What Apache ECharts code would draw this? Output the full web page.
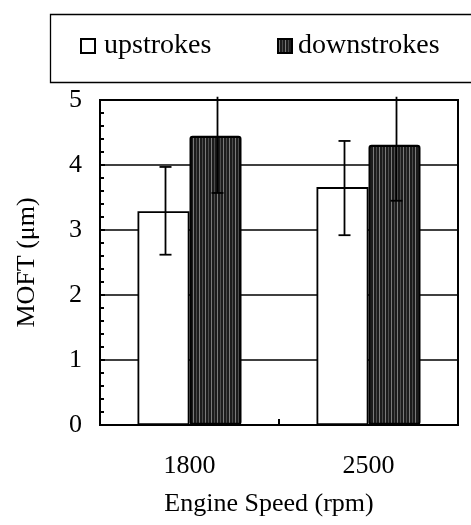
<!DOCTYPE html>
<html>
<head>
<meta charset="utf-8">
<script src="https://cdn.jsdelivr.net/npm/echarts@6/dist/echarts.min.js"></script>
<style>
html,body{margin:0;padding:0;background:#fff;}
#chart{width:471px;height:525px;}
</style>
</head>
<body>
<div id="chart"></div>
<script>
// ---- data ----
const categories = ['1800', '2500'];
const upstrokes = [3.29, 3.66];
const downstrokes = [4.45, 4.31];
const upErrLow = [2.62, 2.92];
const upErrHigh = [3.97, 4.37];
const downErrLow = [3.57, 3.45];
const downErrHigh = [5.05, 5.05];
const yTicks = [0, 1, 2, 3, 4, 5];

// ---- hatch-like fill for the dark bars ----
const pc = document.createElement('canvas');
pc.width = 6; pc.height = 6;
const g = pc.getContext('2d');
g.fillStyle = '#1c1c1c'; g.fillRect(0, 0, 6, 6);
g.fillStyle = '#7a7a7a'; g.fillRect(1, 0, 1, 6);
g.fillStyle = '#4c4c4c'; g.fillRect(4, 0, 1, 6);
const darkFill = { image: pc, repeat: 'repeat' };

const FONT = 'Liberation Serif';
const chart = echarts.init(document.getElementById('chart'), null, { renderer: 'canvas' });

function errItem(lows, highs) {
  return categories.map((c, i) => [i, lows[i], highs[i]]);
}
function makeErr(offset, topCap) {
  return function (params, api) {
    const xi = api.value(0);
    const lo = api.coord([xi, api.value(1)]);
    const hi = api.coord([xi, api.value(2)]);
    const cx = lo[0] + offset;
    const st = { stroke: '#000', lineWidth: 1.8 };
    const ch = [
      { type: 'line', shape: { x1: cx, y1: lo[1], x2: cx, y2: hi[1] }, style: st },
      { type: 'line', shape: { x1: cx - 6, y1: lo[1], x2: cx + 6, y2: lo[1] }, style: st }
    ];
    if (topCap) ch.push({ type: 'line', shape: { x1: cx - 6, y1: hi[1], x2: cx + 6, y2: hi[1] }, style: st });
    return { type: 'group', children: ch };
  };
}

const option = {
  backgroundColor: '#fff',
  animation: false,
  graphic: [{
    type: 'rect', left: 48, top: 12,
    shape: { width: 440, height: 68 },
    style: { fill: 'none', stroke: '#000', lineWidth: 1.3 }, z: 0
  }],
  legend: [{
    data: [{ name: 'upstrokes', icon: 'rect' }], left: 80, top: 32, padding: 0,
    itemWidth: 14, itemHeight: 14,
    textStyle: { fontFamily: FONT, fontSize: 28, color: '#000', padding: [0, 0, 0, 4] }
  }, {
    data: [{ name: 'downstrokes', icon: 'rect' }], left: 277, top: 32, padding: 0,
    itemWidth: 14, itemHeight: 14,
    textStyle: { fontFamily: FONT, fontSize: 28, color: '#000', padding: [0, 0, 0, 1] }
  }],
  grid: { left: 100, right: 13, top: 100, bottom: 100, show: true, borderColor: '#000', borderWidth: 2, backgroundColor: 'transparent' },
  xAxis: {
    type: 'category', data: categories,
    name: 'Engine Speed (rpm)', nameLocation: 'middle', nameGap: 66,
    nameTextStyle: { fontFamily: FONT, fontSize: 26, color: '#000', padding: [0, 20, 0, 0] },
    axisLine: { lineStyle: { color: '#000', width: 2 } },
    axisTick: { show: true, inside: true, length: 6, lineStyle: { color: '#000', width: 2 } },
    axisLabel: { fontFamily: FONT, fontSize: 26, color: '#000', margin: 28 }
  },
  yAxis: {
    type: 'value', min: 0, max: 5, interval: 1,
    name: 'MOFT (μm)', nameLocation: 'middle', nameGap: 60, nameRotate: 90,
    nameTextStyle: { fontFamily: FONT, fontSize: 26, color: '#000' },
    axisLine: { show: true, lineStyle: { color: '#000', width: 2 } },
    axisTick: { show: true, inside: true, length: 5, lineStyle: { color: '#000', width: 2 } },
    minorTick: { show: true, splitNumber: 5, length: 4, lineStyle: { color: '#000', width: 2 } },
    axisLabel: { fontFamily: FONT, fontSize: 26, color: '#000', margin: 18,
      formatter: v => (yTicks.indexOf(v) >= 0 ? String(v) : '') },
    splitLine: { show: true, lineStyle: { color: '#000', width: 1.5 } }
  },
  series: [{
    name: 'upstrokes', type: 'bar', data: upstrokes, barWidth: 52, barGap: '0%',
    itemStyle: { color: '#fff', borderColor: '#000', borderWidth: 1.8 }
  }, {
    name: 'downstrokes', type: 'bar', data: downstrokes, barWidth: 52, barGap: '0%',
    itemStyle: { color: darkFill, borderColor: '#000', borderWidth: 2.2, borderRadius: 2 }
  }, {
    name: 'upErr', type: 'custom', clip: false, z: 5,
    renderItem: makeErr(-24, true),
    encode: { x: 0, y: [1, 2] },
    data: errItem(upErrLow, upErrHigh)
  }, {
    name: 'downErr', type: 'custom', clip: false, z: 5,
    renderItem: makeErr(28, false),
    encode: { x: 0, y: [1, 2] },
    data: errItem(downErrLow, downErrHigh)
  }]
};
chart.setOption(option);
</script>
</body>
</html>
